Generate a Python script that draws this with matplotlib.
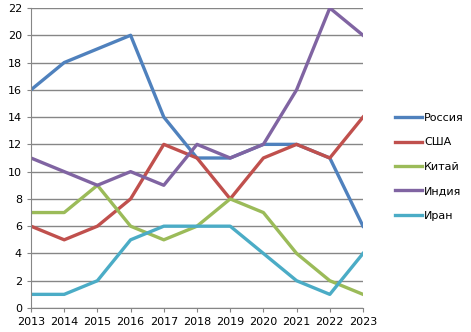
import matplotlib.pyplot as plt

years = list(range(2013, 2024))
russia = [16, 18, 19, 20, 14, 11, 11, 12, 12, 11, 6]
usa = [6, 5, 6, 8, 12, 11, 8, 11, 12, 11, 14]
china = [7, 7, 9, 6, 5, 6, 8, 7, 4, 2, 1]
india = [11, 10, 9, 10, 9, 12, 11, 12, 16, 22, 20]
iran = [1, 1, 2, 5, 6, 6, 6, 4, 2, 1, 4]

names = ['Россия', 'США', 'Китай', 'Индия', 'Иран']
series = [russia, usa, china, india, iran]
colors = ['#4F81BD', '#C0504D', '#9BBB59', '#8064A2', '#4BACC6']

fig = plt.figure(figsize=(4.71, 3.32), dpi=100)
ax = fig.add_axes([31/471, 24/332, 332/471, 300/332])

for vals, name, c in zip(series, names, colors):
    ax.plot(years, vals, color=c, lw=2.4, label=name)

ax.set_xlim(2013, 2023)
ax.set_ylim(0, 22)
ax.set_xticks(years)
ax.set_yticks(range(0, 23, 2))
ax.grid(axis='y', color='#868686', lw=1)
ax.set_axisbelow(True)
for s in ['top', 'right']:
    ax.spines[s].set_visible(False)
for s in ['left', 'bottom']:
    ax.spines[s].set_color('#868686')
ax.tick_params(colors='#868686', labelcolor='black', labelsize=8, length=3)

fig.legend(loc='upper left', bbox_to_anchor=(395/471, 1 - 113/332), frameon=False,
           fontsize=8, handlelength=2.4, labelspacing=1.3, handletextpad=0.2,
           borderpad=0, borderaxespad=0)

fig.savefig('out.png', dpi=100)
